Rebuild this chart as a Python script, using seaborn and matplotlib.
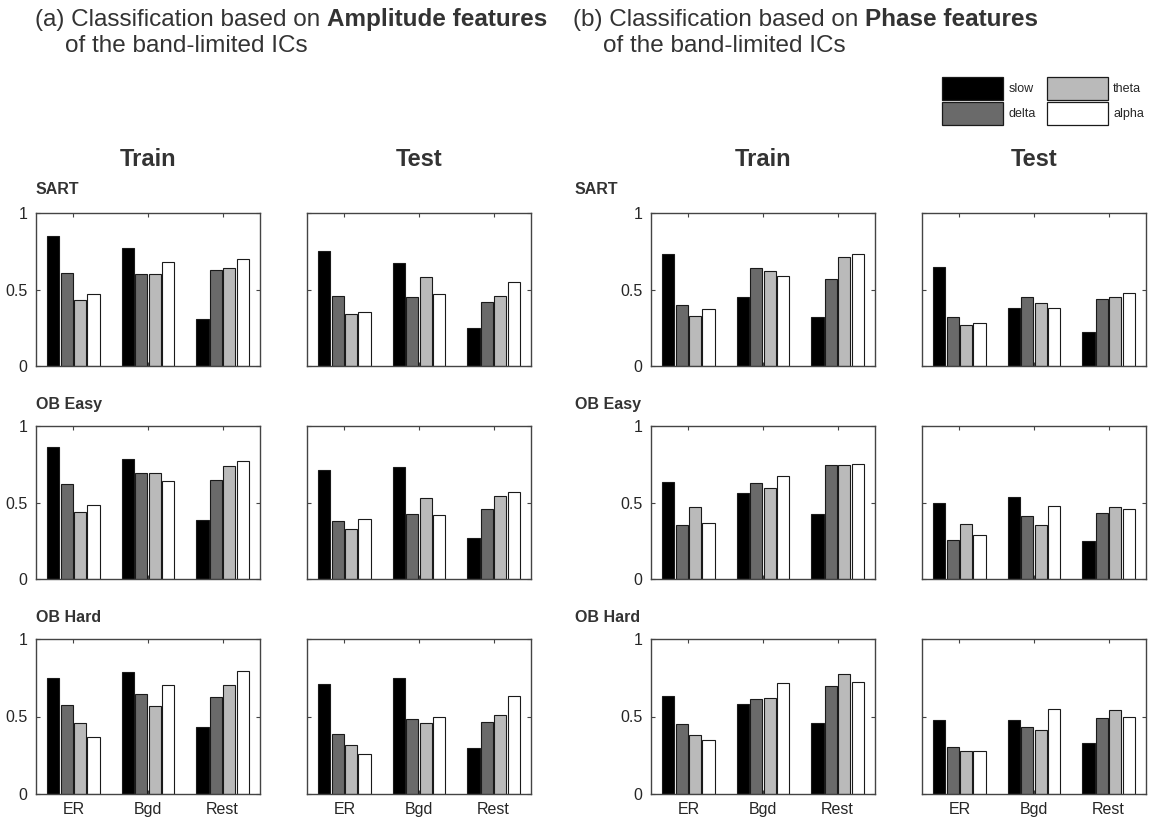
import matplotlib
matplotlib.use("Agg")
import matplotlib.pyplot as plt
from matplotlib.patches import Patch
from matplotlib.text import Annotation
import seaborn as sns
import pandas as pd

# ---- data: classification accuracy per condition (rows) and band (columns) ----
bands = ["slow", "delta", "theta", "alpha"]
conditions = ["ER", "Bgd", "Rest"]
tasks = ["SART", "OB Easy", "OB Hard"]
splits = ["Train", "Test"]

amp_train_sart = [[0.85, 0.61, 0.43, 0.47], [0.77, 0.60, 0.60, 0.68], [0.31, 0.63, 0.64, 0.70]]
amp_test_sart = [[0.75, 0.46, 0.34, 0.35], [0.67, 0.45, 0.58, 0.47], [0.25, 0.42, 0.46, 0.55]]
phase_train_sart = [[0.73, 0.40, 0.33, 0.37], [0.45, 0.64, 0.62, 0.59], [0.32, 0.57, 0.71, 0.735]]
phase_test_sart = [[0.65, 0.32, 0.27, 0.28], [0.38, 0.45, 0.41, 0.38], [0.22, 0.44, 0.45, 0.48]]

amp_train_obeasy = [[0.86, 0.62, 0.44, 0.485], [0.785, 0.69, 0.69, 0.64], [0.385, 0.65, 0.74, 0.77]]
amp_test_obeasy = [[0.71, 0.38, 0.33, 0.39], [0.735, 0.425, 0.53, 0.42], [0.27, 0.46, 0.54, 0.57]]
phase_train_obeasy = [[0.635, 0.35, 0.47, 0.365], [0.56, 0.625, 0.595, 0.675], [0.425, 0.745, 0.745, 0.75]]
phase_test_obeasy = [[0.50, 0.255, 0.36, 0.285], [0.535, 0.415, 0.35, 0.48], [0.25, 0.43, 0.47, 0.46]]

amp_train_obhard = [[0.75, 0.575, 0.46, 0.365], [0.79, 0.645, 0.565, 0.705], [0.435, 0.625, 0.705, 0.795]]
amp_test_obhard = [[0.71, 0.39, 0.315, 0.255], [0.75, 0.485, 0.46, 0.50], [0.30, 0.465, 0.51, 0.63]]
phase_train_obhard = [[0.63, 0.45, 0.38, 0.35], [0.58, 0.61, 0.62, 0.715], [0.46, 0.70, 0.775, 0.725]]
phase_test_obhard = [[0.48, 0.305, 0.275, 0.275], [0.475, 0.43, 0.415, 0.55], [0.33, 0.49, 0.54, 0.50]]

# grid: rows = tasks, columns = (amp train, amp test, phase train, phase test)
panels = [
    [amp_train_sart, amp_test_sart, phase_train_sart, phase_test_sart],
    [amp_train_obeasy, amp_test_obeasy, phase_train_obeasy, phase_test_obeasy],
    [amp_train_obhard, amp_test_obhard, phase_train_obhard, phase_test_obhard],
]

band_colors = ["#000000", "#6a6a6a", "#bababa", "#ffffff"]

# ---- style ----
sns.set_style("ticks")
plt.rcParams["font.family"] = ["Liberation Sans", "DejaVu Sans"]
plt.rcParams["axes.edgecolor"] = "#444444"
plt.rcParams["axes.linewidth"] = 1.0

W, H = 1151, 819
fig = plt.figure(figsize=(W / 100, H / 100), dpi=100)

col_left = [36, 307, 651, 922]
panel_w = 224
row_top = [213, 426, 639]
row_bot = [366, 579, 794]

text_gray = "#333333"

for r in range(3):
    for c in range(4):
        rect = [col_left[c] / W, 1 - row_bot[r] / H, panel_w / W, (row_bot[r] - row_top[r]) / H]
        ax = fig.add_axes(rect)
        vals = panels[r][c]
        df = pd.DataFrame(
            [(cond, band, vals[i][j]) for i, cond in enumerate(conditions) for j, band in enumerate(bands)],
            columns=["condition", "band", "accuracy"],
        )
        sns.barplot(
            data=df, x="condition", y="accuracy", hue="band",
            order=conditions, hue_order=bands, palette=band_colors,
            width=0.72, gap=0.1, edgecolor="#1a1a1a", linewidth=0.8,
            legend=False, ax=ax, errorbar=None,
        )
        ax.set_xlim(-0.5, 2.5)
        ax.set_ylim(0, 1)
        ax.set_yticks([0, 0.5, 1])
        ax.set_xticks(range(3))
        ax.set_xlabel("")
        ax.set_ylabel("")
        ax.tick_params(direction="in", length=3, width=0.8, color="#444444",
                       top=True, right=True, labelsize=11.5, pad=6)
        if c in (0, 2):
            ax.set_yticklabels(["0", "0.5", "1"])
        else:
            ax.set_yticklabels([])
        if r == 2:
            ax.set_xticklabels(conditions, fontsize=11.5)
        else:
            ax.set_xticklabels([])
        for s in ax.spines.values():
            s.set_visible(True)
            s.set_color("#444444")

# ---- panel headings ----
for c in range(4):
    cx = (col_left[c] + panel_w / 2) / W
    fig.text(cx, 1 - 160 / H, splits[c % 2], ha="center", va="center",
             fontsize=17, fontweight="bold", color=text_gray)

for r, ty in enumerate([190, 405, 617]):
    for x0 in (36, 575):
        fig.text(x0 / W, 1 - ty / H, tasks[r], ha="left", va="center",
                 fontsize=11.5, fontweight="bold", color=text_gray)

# ---- section titles with bold emphasis ----
def section_title(x0, prefix, emphasis):
    t1 = fig.text(x0 / W, 1 - 20 / H, prefix, ha="left", va="center",
                  fontsize=17.5, color=text_gray)
    fig.add_artist(Annotation(emphasis, xy=(1, 0), xycoords=t1,
                              xytext=(5, 0), textcoords="offset points",
                              ha="left", va="bottom", fontsize=17.5,
                              fontweight="bold", color=text_gray))
    fig.text((x0 + 30) / W, 1 - 46 / H, "of the band-limited ICs", ha="left",
             va="center", fontsize=17.5, color=text_gray)

section_title(35, "(a) Classification based on", "Amplitude features")
section_title(573, "(b) Classification based on", "Phase features")

# ---- legend ----
handles = [Patch(facecolor=col, edgecolor="#1a1a1a", linewidth=0.9, label=b)
           for b, col in zip(bands, band_colors)]
fig.legend(handles=handles, ncol=2, loc="upper right",
           bbox_to_anchor=(1144 / W, 1 - 77 / H), frameon=False,
           fontsize=9, handlelength=4.9, handleheight=2.5,
           handletextpad=0.4, columnspacing=0.9, labelspacing=0.12,
           borderpad=0, borderaxespad=0)

fig.savefig("out.png", dpi=100)
